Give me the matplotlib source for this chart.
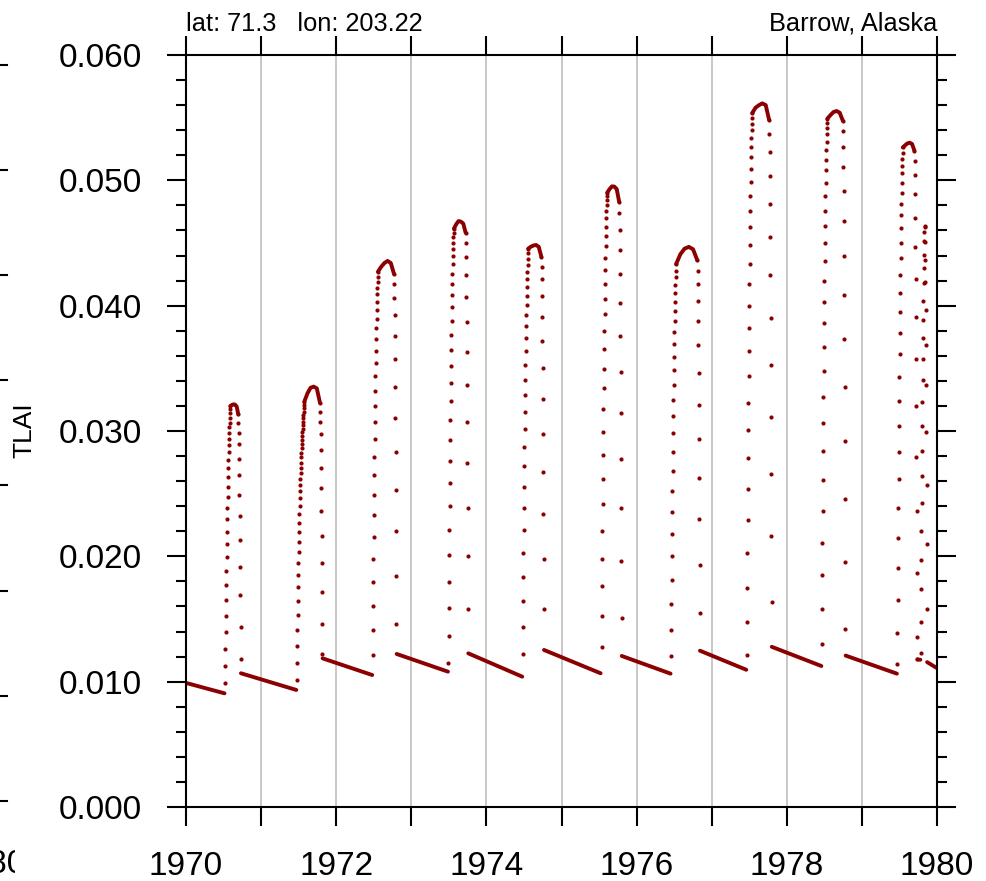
import numpy as np
import matplotlib
matplotlib.use("Agg")
import matplotlib.pyplot as plt
from matplotlib.ticker import MultipleLocator, FormatStrFormatter
from matplotlib.lines import Line2D
from matplotlib.transforms import Bbox, TransformedBbox

plt.rcParams['font.family'] = ['Liberation Sans', 'DejaVu Sans']

# ---------------- data (TLAI, daily model output, Barrow) ----------------
years = [1970, 1971, 1972, 1973, 1974, 1975, 1976, 1977, 1978, 1979]
rise_start_doy = [189, 173, 177, 180, 176, 195, 167, 170, 170, 172]
fall_start_doy = [254, 286, 281, 264, 267, 280, 295, 279, 272, 255]

rise_tlai = [
    [0.00987, 0.01125, 0.01263, 0.01394, 0.01524, 0.01649, 0.01769, 0.01883, 0.01992, 0.02098,
     0.02197, 0.02295, 0.02388, 0.02473, 0.02556, 0.02630, 0.02702, 0.02769, 0.02833, 0.02886,
     0.02939, 0.02987, 0.03029, 0.03067, 0.03104, 0.03141, 0.03173, 0.03200],
    [0.01013, 0.01146, 0.01285, 0.01412, 0.01532, 0.01646, 0.01753, 0.01851, 0.01949, 0.02037,
     0.02117, 0.02197, 0.02268, 0.02338, 0.02402, 0.02463, 0.02521, 0.02569, 0.02620, 0.02662,
     0.02707, 0.02747, 0.02790, 0.02827, 0.02862, 0.02896, 0.02928, 0.02960, 0.02990, 0.03016,
     0.03045, 0.03072, 0.03101, 0.03128, 0.03154, 0.03181, 0.03208, 0.03234],
    [0.01213, 0.01412, 0.01606, 0.01798, 0.01979, 0.02154, 0.02327, 0.02489, 0.02647, 0.02795,
     0.02939, 0.03074, 0.03202, 0.03322, 0.03439, 0.03543, 0.03641, 0.03734, 0.03819, 0.03896,
     0.03968, 0.04032, 0.04093, 0.04144, 0.04191, 0.04231, 0.04271],
    [0.01146, 0.01364, 0.01585, 0.01798, 0.02008, 0.02210, 0.02404, 0.02588, 0.02761, 0.02928,
     0.03085, 0.03237, 0.03383, 0.03521, 0.03649, 0.03768, 0.03880, 0.03987, 0.04085, 0.04175,
     0.04255, 0.04330, 0.04399, 0.04452, 0.04503, 0.04545, 0.04582, 0.04614],
    [0.01221, 0.01434, 0.01641, 0.01838, 0.02027, 0.02210, 0.02388, 0.02556, 0.02718, 0.02870,
     0.03016, 0.03154, 0.03285, 0.03409, 0.03527, 0.03638, 0.03740, 0.03835, 0.03923, 0.04005,
     0.04077, 0.04147, 0.04210, 0.04271, 0.04325, 0.04375, 0.04418, 0.04455],
    [0.01279, 0.01524, 0.01763, 0.01981, 0.02205, 0.02418, 0.02617, 0.02811, 0.02995, 0.03173,
     0.03341, 0.03495, 0.03652, 0.03796, 0.03931, 0.04056, 0.04173, 0.04285, 0.04383, 0.04476,
     0.04554, 0.04630, 0.04697, 0.04755, 0.04803, 0.04843, 0.04875, 0.04901],
    [0.01208, 0.01415, 0.01623, 0.01812, 0.01999, 0.02179, 0.02353, 0.02521, 0.02683, 0.02836,
     0.02982, 0.03119, 0.03247, 0.03370, 0.03486, 0.03593, 0.03697, 0.03791, 0.03874, 0.03959,
     0.04033, 0.04103, 0.04163, 0.04225, 0.04280, 0.04332],
    [0.01210, 0.01476, 0.01751, 0.02026, 0.02286, 0.02539, 0.02781, 0.03010, 0.03226, 0.03437,
     0.03635, 0.03822, 0.04001, 0.04173, 0.04335, 0.04484, 0.04628, 0.04756, 0.04878, 0.04988,
     0.05089, 0.05183, 0.05266, 0.05336, 0.05400, 0.05452, 0.05498, 0.05537],
    [0.01299, 0.01577, 0.01849, 0.02109, 0.02362, 0.02606, 0.02841, 0.03061, 0.03275, 0.03476,
     0.03669, 0.03859, 0.04033, 0.04200, 0.04353, 0.04499, 0.04634, 0.04759, 0.04875, 0.04982,
     0.05079, 0.05162, 0.05241, 0.05308, 0.05370, 0.05415, 0.05455, 0.05492],
    [0.01141, 0.01385, 0.01651, 0.01904, 0.02148, 0.02383, 0.02615, 0.02835, 0.03043, 0.03241,
     0.03434, 0.03614, 0.03785, 0.03950, 0.04103, 0.04243, 0.04377, 0.04499, 0.04616, 0.04723,
     0.04814, 0.04902, 0.04982, 0.05055, 0.05116, 0.05171, 0.05217, 0.05263],
]

# summer plateau (dense daily values, read at a few points between rise end and fall start)
cap_tlai = [
    [0.03208, 0.03213, 0.03210, 0.03195],
    [0.03300, 0.03345, 0.03354, 0.03340],
    [0.04310, 0.04340, 0.04357, 0.04340],
    [0.04650, 0.04675, 0.04670, 0.04655],
    [0.04470, 0.04480, 0.04484, 0.04470],
    [0.04930, 0.04952, 0.04950, 0.04930],
    [0.04410, 0.04455, 0.04469, 0.04450],
    [0.05580, 0.05600, 0.05614, 0.05600],
    [0.05520, 0.05545, 0.05553, 0.05540],
    [0.05280, 0.05295, 0.05300, 0.05290],
]

fall_tlai = [
    [0.03133, 0.03067, 0.02981, 0.02899, 0.02779, 0.02646, 0.02492, 0.02319, 0.02128, 0.01915, 0.01689, 0.01439, 0.01178],
    [0.03226, 0.03154, 0.03074, 0.02974, 0.02848, 0.02702, 0.02543, 0.02362, 0.02165, 0.01949, 0.01713, 0.01458, 0.01221],
    [0.04253, 0.04170, 0.04061, 0.03926, 0.03761, 0.03572, 0.03354, 0.03106, 0.02833, 0.02532, 0.02202, 0.01846, 0.01463],
    [0.04582, 0.04498, 0.04386, 0.04245, 0.04072, 0.03867, 0.03630, 0.03367, 0.03069, 0.02742, 0.02388, 0.02000, 0.01582],
    [0.04391, 0.04311, 0.04210, 0.04077, 0.03912, 0.03721, 0.03503, 0.03253, 0.02976, 0.02671, 0.02338, 0.01976, 0.01582],
    [0.04830, 0.04737, 0.04604, 0.04444, 0.04250, 0.04024, 0.03761, 0.03468, 0.03141, 0.02779, 0.02388, 0.01963, 0.01506],
    [0.04362, 0.04280, 0.04173, 0.04038, 0.03874, 0.03684, 0.03461, 0.03211, 0.02933, 0.02627, 0.02295, 0.01934, 0.01546],
    [0.05482, 0.05370, 0.05223, 0.05034, 0.04811, 0.04548, 0.04246, 0.03904, 0.03528, 0.03110, 0.02659, 0.02164, 0.01638],
    [0.05477, 0.05391, 0.05269, 0.05110, 0.04912, 0.04673, 0.04399, 0.04088, 0.03736, 0.03351, 0.02923, 0.02460, 0.01956, 0.01422],
    [0.05238, 0.05156, 0.05043, 0.04890, 0.04698, 0.04469, 0.04212, 0.03913, 0.03577, 0.03202, 0.02796, 0.02362, 0.01867, 0.01360, 0.01177],
]

# winter decline segments (dense daily values -> start / end readings)
winter_start_time = [1970.000, 1970 + 267/365, 1971 + 299/365, 1972 + 294/365, 1973 + 277/365,
                     1974 + 280/365, 1975 + 293/365, 1976 + 308/365, 1977 + 292/365, 1978 + 286/365]
winter_end_time = [1970 + 187/365, 1971 + 171/365, 1972 + 175/365, 1973 + 178/365, 1974 + 174/365,
                   1975 + 190/365, 1976 + 165/365, 1977 + 168/365, 1978 + 168/365, 1979 + 170/365]
winter_start_tlai = [0.00990, 0.01067, 0.01186, 0.01221, 0.01226, 0.01253, 0.01205, 0.01247, 0.01278, 0.01208]
winter_end_tlai = [0.00907, 0.00934, 0.01053, 0.01080, 0.01040, 0.01067, 0.01064, 0.01095, 0.01125, 0.01064]

# late-1979 section
tail_flat_time = [1979 + 270/365, 1979 + 284/365]
tail_flat_tlai = [0.01177, 0.01175]
tail_rise_start_doy = 285
tail_rise_tlai = [0.01232, 0.01476, 0.01736, 0.01971, 0.02200, 0.02423, 0.02637, 0.02844, 0.03040, 0.03232,
                  0.03409, 0.03575, 0.03742, 0.03889, 0.04035, 0.04179, 0.04298, 0.04408, 0.04515, 0.04591, 0.04637]
tail_fall_start_doy = 306
tail_fall_tlai = [0.04630, 0.04506, 0.04362, 0.04188, 0.03962, 0.03690, 0.03370, 0.02994, 0.02569, 0.02096, 0.01577]
tail_end_time = [1979 + 317/365, 1980.0]
tail_end_tlai = [0.01156, 0.01108]

x_ticks = list(range(1970, 1981))
x_labels = ['1970', '', '1972', '', '1974', '', '1976', '', '1978', '', '1980']
y_ticks = [0.000, 0.010, 0.020, 0.030, 0.040, 0.050, 0.060]

# ---------------- figure ----------------
W, H = 987, 881
fig = plt.figure(figsize=(W / 100, H / 100), dpi=100)
fig.patch.set_facecolor('white')
ax = fig.add_axes([186 / W, 1 - 807 / H, (937 - 186) / W, (807 - 55) / H])

col = '#8b0000'
dot = dict(linestyle='none', marker='o', ms=3.0, mew=0, color=col, zorder=3, clip_on=False)
seg = dict(linestyle='-', lw=2.8, color=col, zorder=3, solid_capstyle='round')

for i, yr in enumerate(years):
    # winter segment
    ax.plot([winter_start_time[i], winter_end_time[i]], [winter_start_tlai[i], winter_end_tlai[i]], **seg)
    # rise dots (one per day)
    r = rise_tlai[i]
    rx = yr + (rise_start_doy[i] + np.arange(len(r))) / 365.0
    ax.plot(rx, r, **dot)
    # fall dots
    f = fall_tlai[i]
    fx = yr + (fall_start_doy[i] + np.arange(len(f))) / 365.0
    ax.plot(fx, f, **dot)
    # summer plateau
    cy = [r[-1]] + cap_tlai[i] + [f[0]]
    cx = np.linspace(rx[-1], fx[0], len(cy))
    ax.plot(cx, cy, **seg)

ax.plot(tail_flat_time, tail_flat_tlai, **seg)
ax.plot(1979 + (tail_rise_start_doy + np.arange(len(tail_rise_tlai))) / 365.0, tail_rise_tlai, **dot)
ax.plot(1979 + (tail_fall_start_doy + np.arange(len(tail_fall_tlai))) / 365.0, tail_fall_tlai, **dot)
ax.plot(tail_end_time, tail_end_tlai, **seg)

for yv in x_ticks[1:-1]:
    ax.axvline(yv, color='#c4c4c4', lw=1.3, zorder=1)

ax.set_xlim(1970, 1980)
ax.set_ylim(0.0, 0.06)
ax.set_xticks(x_ticks)
ax.set_xticklabels(x_labels)
ax.set_yticks(y_ticks)
ax.yaxis.set_major_formatter(FormatStrFormatter('%.3f'))
ax.yaxis.set_minor_locator(MultipleLocator(0.002))

for s in ax.spines.values():
    s.set_linewidth(1.5)
    s.set_zorder(4)

ax.tick_params(axis='both', which='major', direction='out', length=13.5, width=1.5,
               labelsize=24, pad=18, top=True, right=True, labeltop=False, labelright=False)
ax.tick_params(axis='y', which='minor', direction='out', length=7, width=1.5,
               left=True, right=True)

# axis label and titles
fig.text(24 / W, 1 - 430 / H, 'TLAI', rotation=90, ha='center', va='center', fontsize=19)
ax.annotate('lat: 71.3   lon: 203.22', xy=(0, 1), xycoords='axes fraction',
            xytext=(0, 17), textcoords='offset points', ha='left', va='baseline', fontsize=18.3)
ax.annotate('Barrow, Alaska', xy=(1, 1), xycoords='axes fraction',
            xytext=(0, 18), textcoords='offset points', ha='right', va='baseline', fontsize=18.3)

# remnants of the neighbouring panel, cut by the left image edge
for yp in [800.7, 695.6, 590.5, 485.4, 380.3, 275.2, 170.1, 65.0]:
    fig.add_artist(Line2D([0, 7 / W], [1 - yp / H, 1 - yp / H], transform=fig.transFigure,
                          color='black', lw=1.5))
t = fig.text(26 / W, 1 - 849 / H, '1980', ha='right', va='top', fontsize=24)
t.set_clip_box(TransformedBbox(Bbox([[0, 0], [15 / W, 1]]), fig.transFigure))
t.set_clip_on(True)

fig.savefig('out.png', dpi=100)
